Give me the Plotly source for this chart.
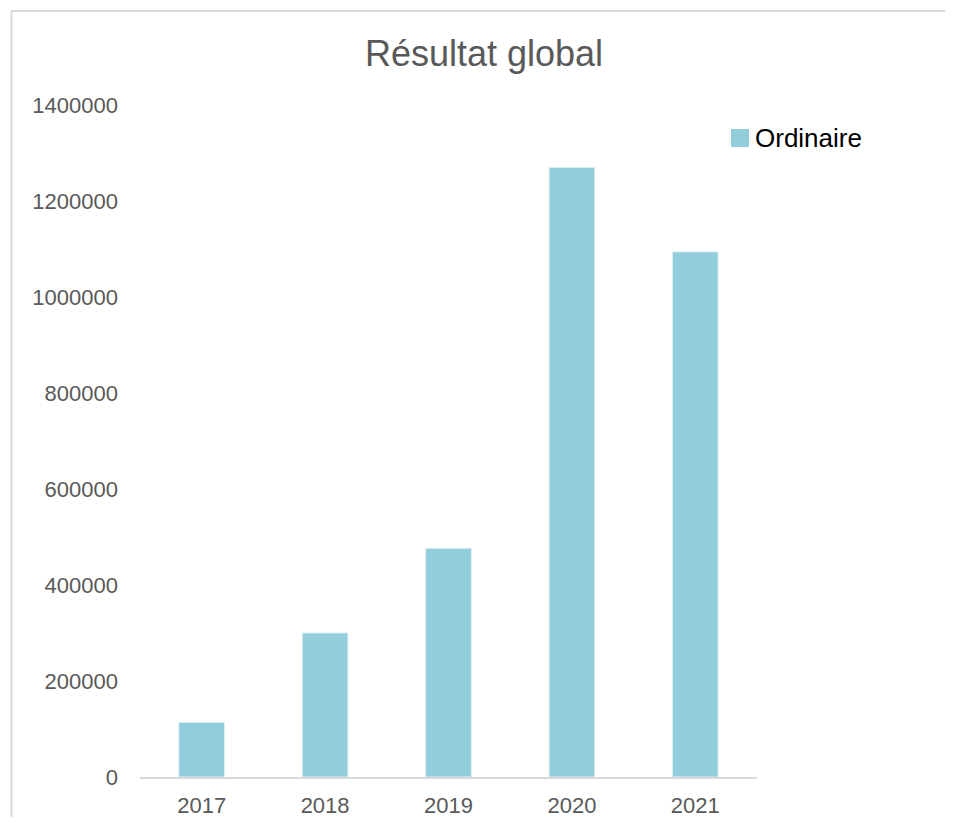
import plotly.graph_objects as go

years = ["2017", "2018", "2019", "2020", "2021"]
ordinaire = [114000, 300000, 476500, 1270000, 1094000]
y_ticks = [0, 200000, 400000, 600000, 800000, 1000000, 1200000, 1400000]
series_name = "Ordinaire"
bar_color = "#92CDDC"

fig = go.Figure()
fig.add_trace(go.Bar(
    x=years, y=ordinaire, name=series_name, showlegend=False,
    marker=dict(color=bar_color, line=dict(color="#DDEFF4", width=1)),
))

fig.update_layout(
    width=937, height=809,
    margin=dict(l=132, r=188, t=97, b=40),
    paper_bgcolor="white", plot_bgcolor="white",
    font=dict(family="Liberation Sans, Arial, sans-serif", color="#595959", size=22),
    title=dict(text="Résultat global", x=0.508, xanchor="center", y=0.9444, yanchor="middle",
               font=dict(size=36, color="#595959")),
    bargap=0.63,
    showlegend=False,
    xaxis=dict(showgrid=False, showline=True, linecolor="#D9D9D9", linewidth=2,
               automargin=False,
               ticks="", ticklabelstandoff=8, tickfont=dict(size=22, color="#595959")),
    yaxis=dict(range=[0, 1400000], tickvals=y_ticks, ticktext=[str(v) for v in y_ticks],
               showgrid=False, zeroline=False, showline=False, ticks="",
               automargin=False, ticklabelstandoff=21,
               tickfont=dict(size=22, color="#595959")),
    shapes=[
        dict(type="rect", xref="paper", yref="paper",
             x0=-0.2083, x1=1.5, y0=-0.2, y1=1.1399,
             line=dict(color="#D9D9D9", width=2), fillcolor="rgba(0,0,0,0)", layer="below"),
        dict(type="rect", xref="paper", yref="paper",
             x0=0.9579, x1=0.987, y0=0.9375, y1=0.9643,
             line=dict(width=0), fillcolor=bar_color),
    ],
    annotations=[
        dict(text=series_name, xref="paper", yref="paper", x=0.9935, y=0.9509,
             xanchor="left", yanchor="middle", showarrow=False,
             font=dict(size=26, color="#000000")),
    ],
)

fig.write_html("out.html")
